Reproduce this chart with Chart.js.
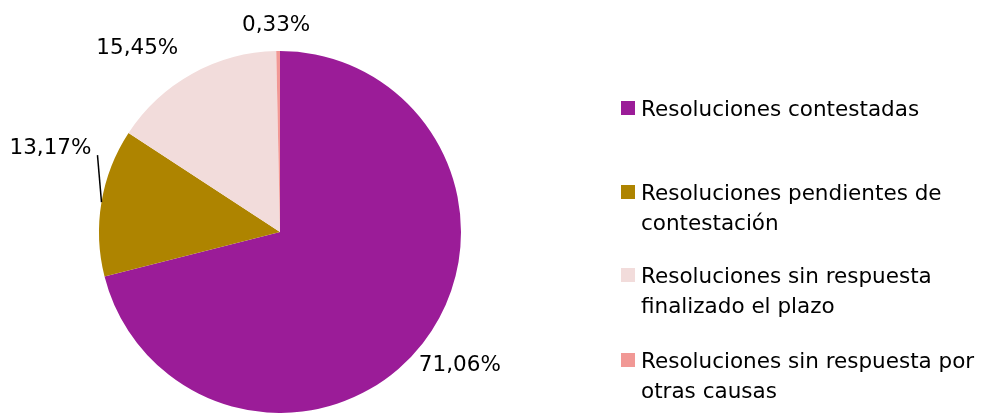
<!DOCTYPE html>
<html>
<head>
<meta charset="utf-8">
<script src="https://cdn.jsdelivr.net/npm/chart.js@4/dist/chart.umd.min.js"></script>
<style>
  html, body { margin: 0; padding: 0; background: #fff; }
  #wrap { width: 981px; height: 413px; position: relative; }
</style>
</head>
<body>
<div id="wrap"><canvas id="grafico" width="981" height="413"></canvas></div>
<script>
// datos
const categorias = [
    ['Resoluciones contestadas'],
    ['Resoluciones pendientes de', 'contestación'],
    ['Resoluciones sin respuesta', 'finalizado el plazo'],
    ['Resoluciones sin respuesta por', 'otras causas']
];
const porcentajes = [71.06, 13.17, 15.45, 0.33];
const colores = ['#9b1c98', '#ae8400', '#f2dcdb', '#f19895'];

const FUENTE = '21.5px "DejaVu Sans", sans-serif';

// desplazamiento de cada etiqueta respecto al borde del sector
const desplaz = [[37, 22], [-51, -54], [-55, -25], [-2, -26]];

const formatear = v => v.toFixed(2).replace('.', ',') + '%';

const etiquetas = {
    id: 'etiquetas',
    afterDatasetsDraw(chart) {
        const ctx = chart.ctx;
        const meta = chart.getDatasetMeta(0);
        ctx.save();
        ctx.font = FUENTE;
        ctx.fillStyle = '#000';
        ctx.textAlign = 'center';
        ctx.textBaseline = 'middle';
        meta.data.forEach((arc, i) => {
            const { x, y, startAngle, endAngle, outerRadius } = arc.getProps(['x', 'y', 'startAngle', 'endAngle', 'outerRadius'], true);
            const mid = (startAngle + endAngle) / 2;
            const ex = x + Math.cos(mid) * outerRadius;
            const ey = y + Math.sin(mid) * outerRadius;
            const lx = ex + desplaz[i][0];
            const ly = ey + desplaz[i][1];
            if (i === 1) {
                ctx.strokeStyle = '#000';
                ctx.lineWidth = 1.5;
                ctx.beginPath();
                ctx.moveTo(ex, ey);
                ctx.lineTo(lx + 47, ly + 7);
                ctx.stroke();
            }
            ctx.fillText(formatear(porcentajes[i]), lx, ly);
        });
        ctx.restore();
    }
};

const leyenda = {
    id: 'leyenda',
    afterDraw(chart) {
        const ctx = chart.ctx;
        const tops = [101, 185, 268, 353];
        const interlinea = 30;
        ctx.save();
        ctx.font = FUENTE;
        ctx.textBaseline = 'alphabetic';
        ctx.textAlign = 'left';
        categorias.forEach((lineas, i) => {
            ctx.fillStyle = colores[i];
            ctx.fillRect(621, tops[i], 14, 14);
            ctx.fillStyle = '#000';
            lineas.forEach((t, j) => ctx.fillText(t, 641, tops[i] + 15 + j * interlinea));
        });
        ctx.restore();
    }
};

new Chart(document.getElementById('grafico'), {
    type: 'pie',
    data: {
        labels: categorias.map(l => l.join(' ')),
        datasets: [{ data: porcentajes, backgroundColor: colores, borderWidth: 0 }]
    },
    options: {
        responsive: false,
        animation: false,
        layout: { padding: { left: 99, right: 520, top: 51, bottom: 0 } },
        plugins: { legend: { display: false }, tooltip: { enabled: false } }
    },
    plugins: [etiquetas, leyenda]
});
</script>
</body>
</html>
